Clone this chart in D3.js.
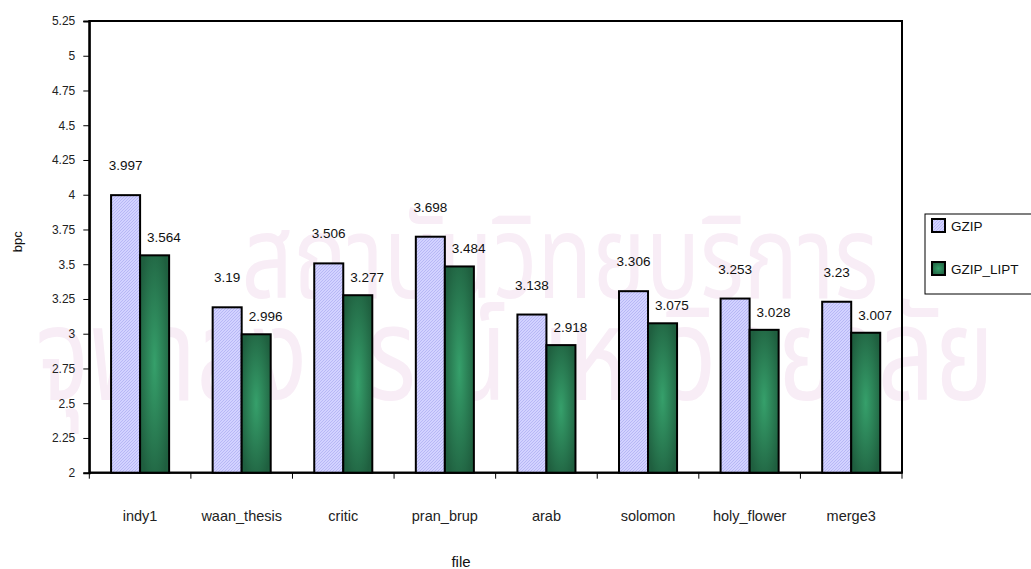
<!DOCTYPE html>
<html>
<head>
<meta charset="utf-8">
<script src="https://cdn.jsdelivr.net/npm/d3@7"></script>
<style>
  html, body { margin: 0; padding: 0; background: #fff; }
  svg { display: block; font-family: "Liberation Sans", Arial, sans-serif; }
</style>
</head>
<body>
<svg id="chart" width="1031" height="569"></svg>
<script>
const categories = ["indy1", "waan_thesis", "critic", "pran_brup", "arab", "solomon", "holy_flower", "merge3"];
const seriesNames = ["GZIP", "GZIP_LIPT"];
const gzip = [3.997, 3.19, 3.506, 3.698, 3.138, 3.306, 3.253, 3.23];
const gzipLipt = [3.564, 2.996, 3.277, 3.484, 2.918, 3.075, 3.028, 3.007];
const yTicks = [2, 2.25, 2.5, 2.75, 3, 3.25, 3.5, 3.75, 4, 4.25, 4.5, 4.75, 5, 5.25];
const yTitle = "bpc";
const xTitle = "file";
const watermark = ["สถาบันวิทยบริการ", "จุฬาลงกรณ์มหาวิทยาลัย"];

(function () {
const seriesValues = [gzip, gzipLipt];
const svg = d3.select("#chart");

// defs
const defs = svg.append("defs");
const pat = defs.append("pattern").attr("id", "lav").attr("patternUnits", "userSpaceOnUse")
  .attr("width", 3).attr("height", 3);
pat.append("rect").attr("width", 3).attr("height", 3).attr("fill", "#d2d2ff");
pat.append("path").attr("d", "M0,3 L3,0 M-1,1 L1,-1 M2,4 L4,2").attr("stroke", "#b4b4f4").attr("stroke-width", 0.9);
const rg = defs.append("radialGradient").attr("id", "grn").attr("cx", "50%").attr("cy", "50%").attr("r", "60%");
rg.append("stop").attr("offset", "0%").attr("stop-color", "#36a06b");
rg.append("stop").attr("offset", "100%").attr("stop-color", "#1f5f3f");

// faint background watermark (scanned-page stamp)
const wm = svg.append("g").attr("fill", "#f8edf6")
  .attr("font-family", "'Noto Sans Thai','Noto Sans','DejaVu Sans',sans-serif");
wm.append("text").attr("transform", "translate(560,298) scale(1,1.3)").attr("text-anchor", "middle")
  .attr("font-size", 90).text(watermark[0]);
wm.append("text").attr("transform", "translate(515,400) scale(1,1.3)").attr("text-anchor", "middle")
  .attr("font-size", 100).text(watermark[1]);

const pLeft = 89.3, pRight = 902, pTop = 21, pBottom = 472.7;

const y = d3.scaleLinear().domain([2, 5.25]).range([pBottom, pTop]);
const x = d3.scaleBand().domain(categories).range([pLeft, pRight]).paddingInner(0).paddingOuter(0);
const xs = d3.scaleBand().domain(seriesNames).range([0, x.bandwidth()]).paddingInner(0).paddingOuter(0.75);

// plot frame
svg.append("rect").attr("x", pLeft).attr("y", pTop).attr("width", pRight - pLeft).attr("height", pBottom - pTop)
  .attr("fill", "none").attr("stroke", "#000").attr("stroke-width", 2);

// y axis
const yAxis = d3.axisLeft(y).tickValues(yTicks).tickSize(6).tickPadding(8).tickFormat(d => String(d));
const gy = svg.append("g").attr("transform", `translate(${pLeft},0)`).call(yAxis);
gy.select(".domain").attr("stroke", "#000").attr("stroke-width", 2);
gy.selectAll(".tick line").attr("stroke", "#000").attr("stroke-width", 1);
gy.selectAll(".tick text").attr("font-size", 12).attr("fill", "#222").attr("font-family", "'Liberation Sans', Arial, sans-serif");

// x axis ticks at band boundaries
const gx = svg.append("g").attr("transform", `translate(0,${pBottom})`);
const bounds = categories.map(c => x(c)).concat([pRight]);
gx.selectAll("line.bt").data(bounds).join("line").attr("class", "bt")
  .attr("x1", d => d).attr("x2", d => d).attr("y1", 0).attr("y2", 6)
  .attr("stroke", "#000").attr("stroke-width", 1);
gx.append("line").attr("x1", pLeft).attr("x2", pRight).attr("stroke", "#000").attr("stroke-width", 2);
gx.selectAll("text.cl").data(categories).join("text").attr("class", "cl")
  .attr("x", d => x(d) + x.bandwidth() / 2).attr("y", 48)
  .attr("text-anchor", "middle").attr("font-size", 14.5).attr("fill", "#222").text(d => d);

// bars
const fills = ["url(#lav)", "url(#grn)"];
seriesNames.forEach((s, si) => {
  const g = svg.append("g");
  g.selectAll("rect").data(categories).join("rect")
    .attr("x", c => x(c) + xs(s))
    .attr("y", (c, i) => y(seriesValues[si][i]))
    .attr("width", xs.bandwidth())
    .attr("height", (c, i) => pBottom - y(seriesValues[si][i]))
    .attr("fill", fills[si]).attr("stroke", "#000").attr("stroke-width", 2);
});

// value labels
svg.append("g").selectAll("text").data(categories).join("text")
  .attr("x", c => x(c) + xs("GZIP") + xs.bandwidth() / 2)
  .attr("y", (c, i) => y(gzip[i]) - 25)
  .attr("text-anchor", "middle").attr("font-size", 13.5).attr("fill", "#111")
  .text((c, i) => String(gzip[i]));
svg.append("g").selectAll("text").data(categories).join("text")
  .attr("x", c => x(c) + xs("GZIP_LIPT") + 7)
  .attr("y", (c, i) => y(gzipLipt[i]) - 13)
  .attr("text-anchor", "start").attr("font-size", 13.5).attr("fill", "#111")
  .text((c, i) => String(gzipLipt[i]));

// axis titles
svg.append("text").attr("transform", `translate(22,${(pTop + pBottom) / 2 - 5}) rotate(-90)`)
  .attr("text-anchor", "middle").attr("font-size", 13).attr("fill", "#111").text(yTitle);
svg.append("text").attr("x", 461).attr("y", 567).attr("text-anchor", "middle")
  .attr("font-size", 15).attr("fill", "#111").text(xTitle);

// legend
const lg = svg.append("g");
lg.append("rect").attr("x", 925).attr("y", 214).attr("width", 130).attr("height", 80)
  .attr("fill", "#fff").attr("stroke", "#000").attr("stroke-width", 1);
const legY = [219, 262];
seriesNames.forEach((s, si) => {
  lg.append("rect").attr("x", 932).attr("y", legY[si]).attr("width", 13).attr("height", 13)
    .attr("fill", fills[si]).attr("stroke", "#000").attr("stroke-width", 2);
  lg.append("text").attr("x", 951).attr("y", legY[si] + 12).attr("font-size", 13.5)
    .attr("fill", "#111").text(s);
});
})();
</script>
</body>
</html>
